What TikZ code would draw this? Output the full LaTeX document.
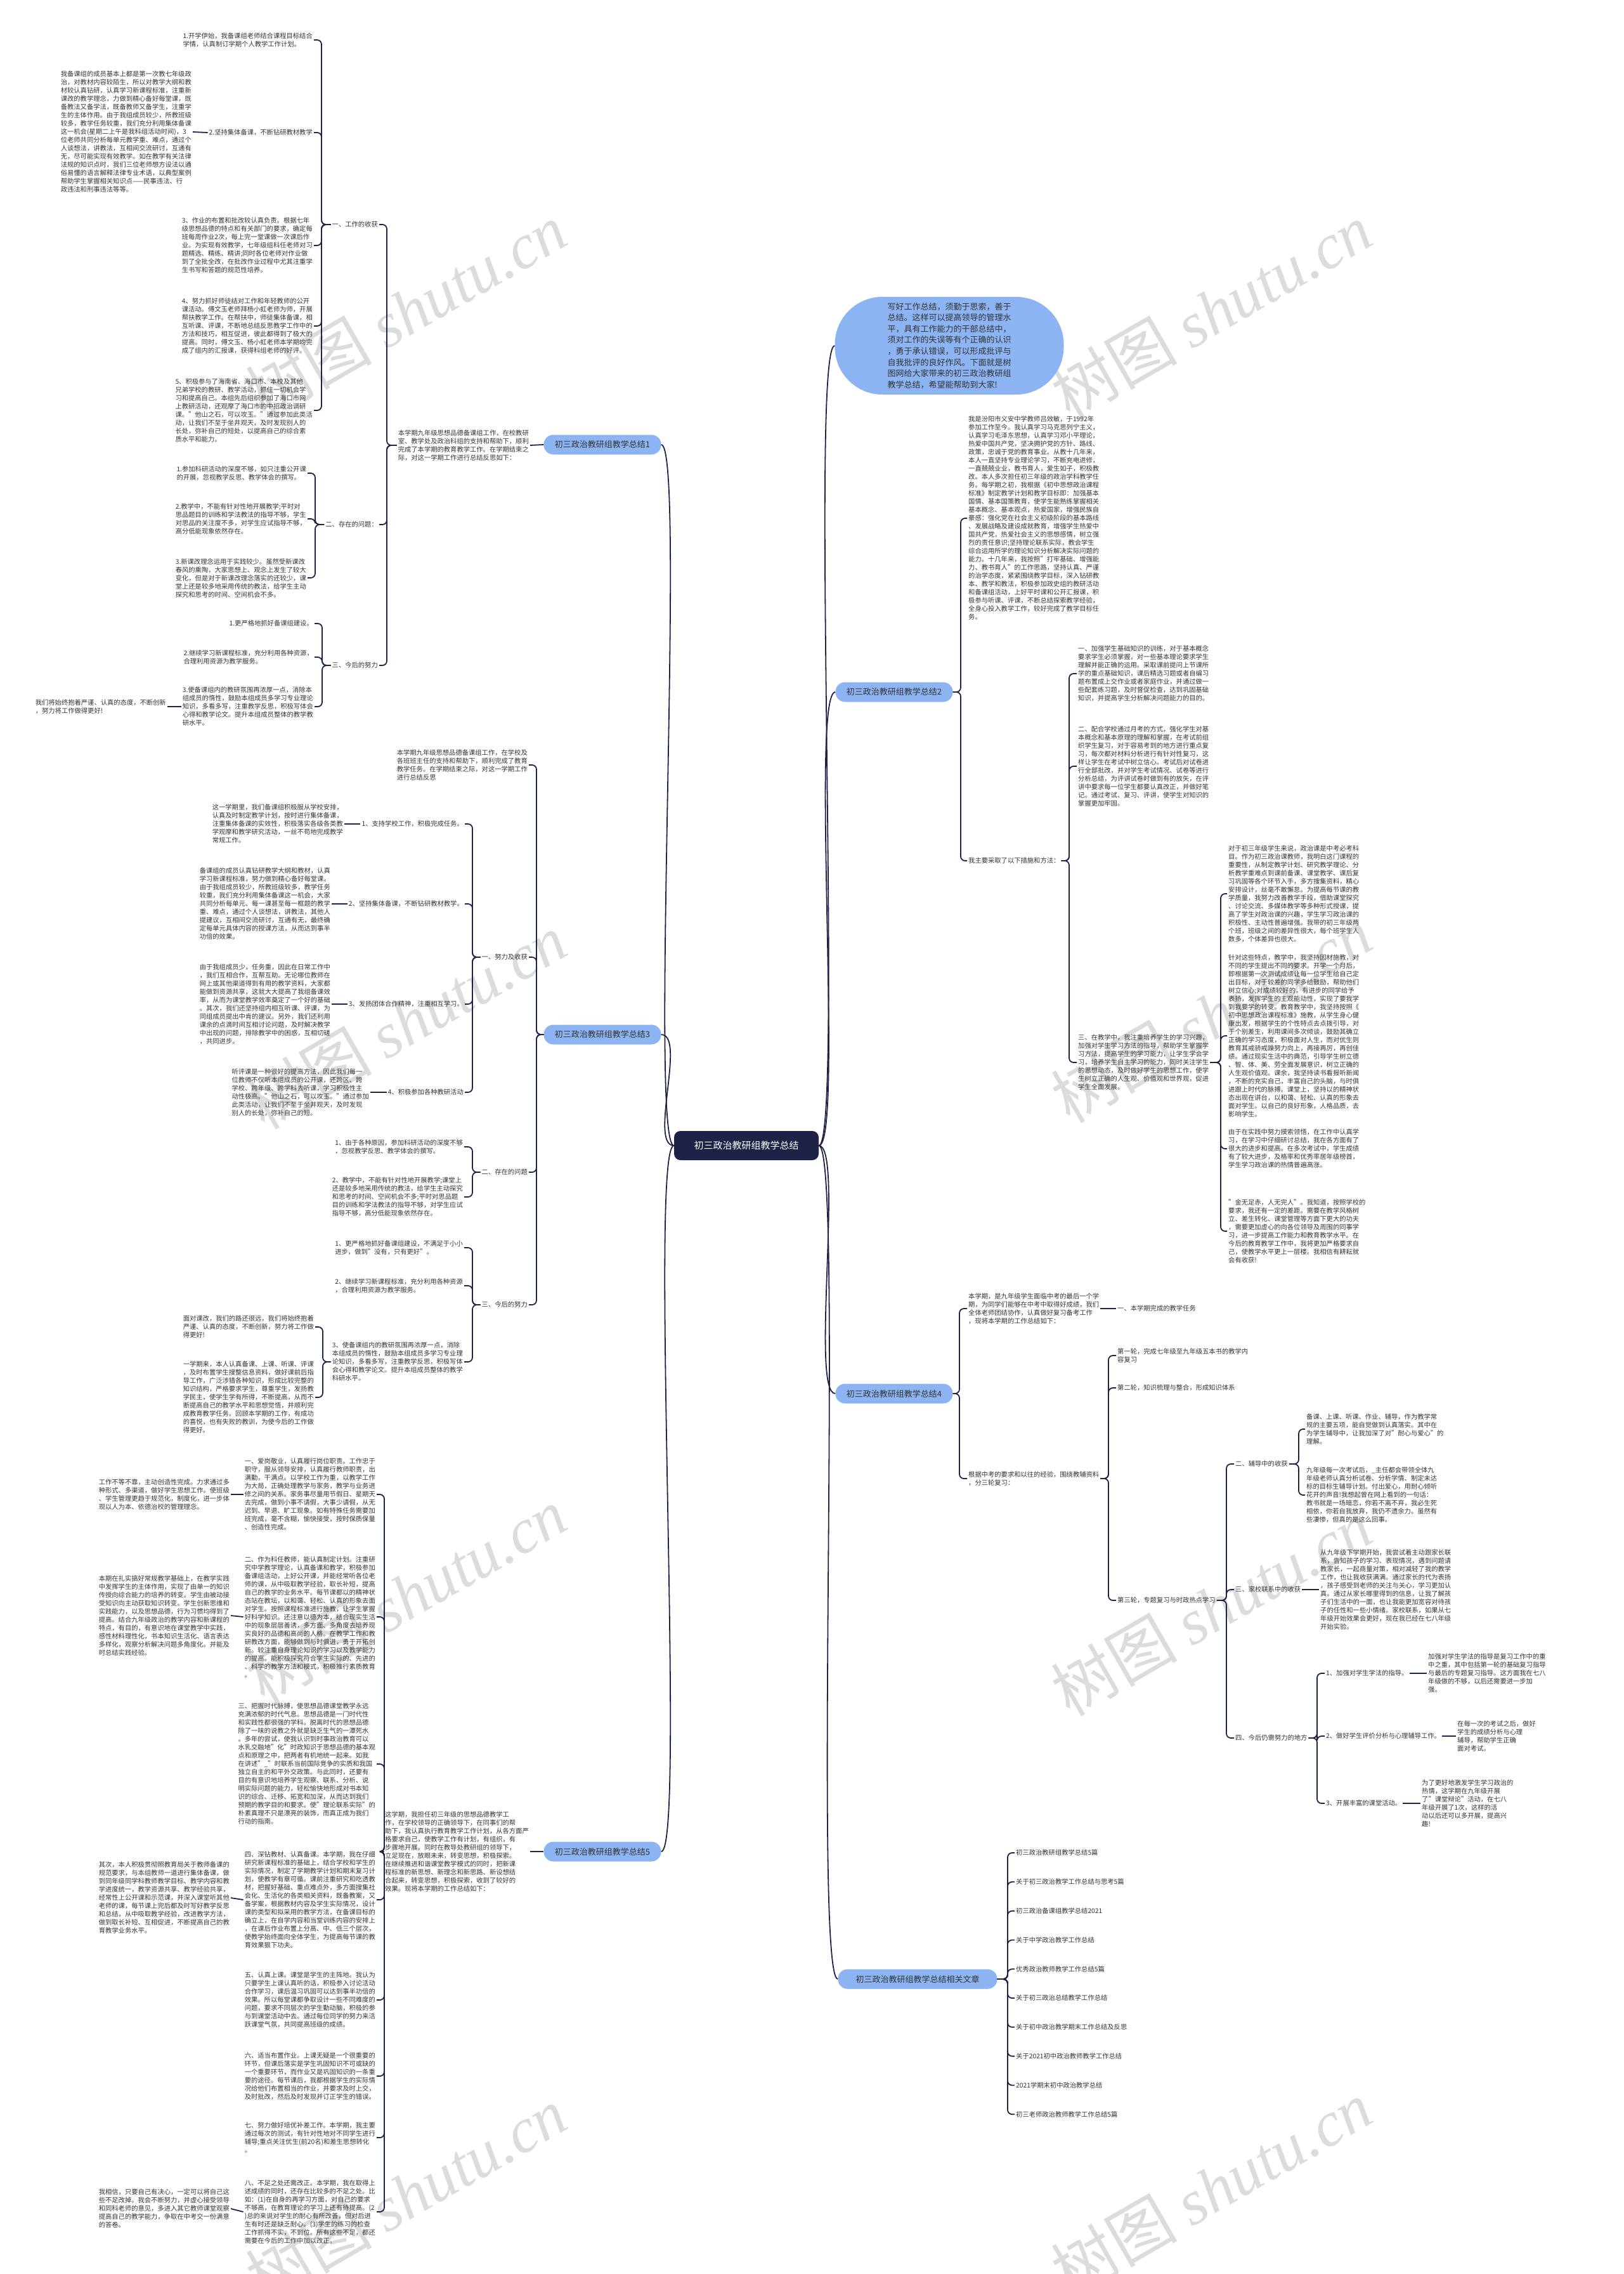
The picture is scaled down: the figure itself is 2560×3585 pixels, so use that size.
\documentclass[tikz,border=0pt]{standalone}
\usepackage{fontspec}
\setmainfont{Noto Sans CJK SC}
\newfontfamily\wmserif{Liberation Serif}
\definecolor{linec}{HTML}{1E2246}
\definecolor{topicc}{HTML}{8CB3F2}
\definecolor{txtc}{HTML}{333333}
\definecolor{wmc}{HTML}{DCDCDC}
\begin{document}
\begin{tikzpicture}[x=1pt,y=-1pt,
  link/.style={draw=linec,line width=1.8pt,rounded corners=7pt},
  txt/.style={align=left,inner sep=2pt,text=txtc,font=\fontsize{10.3}{13}\selectfont},
  topic/.style={fill=topicc,rounded corners=15pt,minimum width=185pt,minimum height=31pt,inner sep=0pt,text=txtc,font=\fontsize{13}{16}\selectfont},
  rootbox/.style={fill=linec,rounded corners=10pt,minimum width=228pt,minimum height=46pt,text=white,font=\fontsize{15}{18}\selectfont},
  wm/.style={text=wmc,rotate=30,font=\fontsize{100}{110}\selectfont}]
\useasboundingbox[fill=white] (0,0) rectangle (2560,3585);
% watermarks
\foreach \wx/\wy [count=\i] in {640/490,1910/490,640/1610,1910/1600,640/2515,1910/2535,640/3460,1910/3450}
  \node[wm] (wm\i) at (\wx,\wy) {树图 {\wmserif\itshape shutu.cn}};

% centre
\node[rootbox] (root) at (1177,1806) {初三政治教研组教学总结};

% ---- branch 1
\node[topic] (n1) at (950,701) {初三政治教研组教学总结1};
\node[txt,anchor=east] (t1) at (836,702) {本学期九年级思想品德备课组工作，在校教研\\室、教学处及政治科组的支持和帮助下，顺利\\完成了本学期的教育教学工作。在学期结束之\\际，对这一学期工作进行总结反思如下：};
\node[txt,anchor=east] (a1) at (598,354) {一、工作的收获};
\node[txt,anchor=east] (b1) at (598,827) {二、存在的问题：};
\node[txt,anchor=east] (c1) at (598,1049) {三、今后的努力};
\node[txt,anchor=east] (a11) at (495,63) {1.开学伊始，我备课组老师结合课程目标结合\\学情，认真制订学期个人教学工作计划。};
\node[txt,anchor=east] (a12) at (495,209) {2.坚持集体备课，不断钻研教材教学};
\node[txt,anchor=east] (a12c) at (304,208) {我备课组的成员基本上都是第一次教七年级政\\治，对教材内容较陌生，所以对教学大纲和教\\材较认真钻研，认真学习新课程标准，注重新\\课改的教学理念，力做到精心备好每堂课，既\\备教法又备学法，既备教师又备学生，注重学\\生的主体作用。由于我组成员较少，所教班级\\较多，教学任务较重，我们充分利用集体备课\\这一机会(星期二上午是我科组活动时间)，3\\位老师共同分析每单元教学重、难点，通过个\\人谈想法，讲教法，互相间交流研讨，互通有\\无，尽可能实现有效教学。如在教学有关法律\\法规的知识点时，我们三位老师想方设法以通\\俗易懂的语言解释法律专业术语，以典型案例\\帮助学生掌握相关知识点——民事违法、行\\政违法和刑事违法等等。};
\node[txt,anchor=east] (a13) at (495,387) {3、作业的布置和批改较认真负责。根据七年\\级思想品德的特点和有关部门的要求，确定每\\班每周作业2次，每上完一堂课做一次课后作\\业。为实现有效教学，七年级组科任老师对习\\题精选、精练、精讲;同时各位老师对作业做\\到了全批全改，在批改作业过程中尤其注重学\\生书写和答题的规范性培养。};
\node[txt,anchor=east] (a14) at (495,514) {4、努力抓好师徒结对工作和年轻教师的公开\\课活动。傅文玉老师拜杨小虹老师为师，开展\\帮扶教学工作。在帮扶中，师徒集体备课，相\\互听课、评课，不断地总结反思教学工作中的\\方法和技巧，相互促进，彼此都得到了极大的\\提高。同时，傅文玉、杨小虹老师本学期均完\\成了组内的汇报课，获得科组老师的好评。};
\node[txt,anchor=east] (a15) at (495,647) {5、积极参与了海南省、海口市、本校及其他\\兄弟学校的教研、教学活动，抓住一切机会学\\习和提高自己。本组先后组织参加了海口市网\\上教研活动，还观摩了海口市的中招政治调研\\课。"他山之石，可以攻玉。"通过参加此类活\\动，让我们不至于坐井观天，及时发现别人的\\长处，弥补自己的短处，以提高自己的综合素\\质水平和能力。};
\node[txt,anchor=east] (b11) at (485,746) {1.参加科研活动的深度不够，如只注重公开课\\的开展，忽视教学反思、教学体会的撰写。};
\node[txt,anchor=east] (b12) at (485,818) {2.教学中，不能有针对性地开展教学;平时对\\思品题目的训练和学法教法的指导不够，学生\\对思品的关注度不多，对学生应试指导不够，\\高分低能现象依然存在。};
\node[txt,anchor=east] (b13) at (485,911) {3.新课改理念运用于实践较少。虽然受新课改\\春风的熏陶，大家思想上、观念上发生了较大\\变化，但是对于新课改理念落实的还较少，课\\堂上还是较多地采用传统的教法，给学生主动\\探究和思考的时间、空间机会不多。};
\node[txt,anchor=east] (c11) at (496,983) {1.更严格地抓好备课组建设。};
\node[txt,anchor=east] (c12) at (496,1036) {2.继续学习新课程标准，充分利用各种资源，\\合理利用资源为教学服务。};
\node[txt,anchor=east] (c13) at (496,1114) {3.使备课组内的教研氛围再浓厚一点，消除本\\组成员的惰性，鼓励本组成员多学习专业理论\\知识，多看多写，注重教学反思，积极写体会\\心得和教学论文。提升本组成员整体的教学教\\研水平。};
\node[txt,anchor=east] (c13c) at (264,1114) {我们将始终抱着严谨、认真的态度，不断创新\\，努力将工作做得更好!};
\coordinate (s1) at (610,0);
\coordinate (sa) at (507,0);
\coordinate (sb) at (497,0);
\coordinate (sc) at (508,0);
\draw[link] (n1.west) -- (t1.east);
\foreach \c in {a1,b1,c1} \draw[link] (t1.west) -- (t1.west -| s1) |- (\c.east);
\foreach \c in {a11,a12,a13,a14,a15} \draw[link] (a1.west) -- (a1.west -| sa) |- (\c.east);
\foreach \c in {b11,b12,b13} \draw[link] (b1.west) -- (b1.west -| sb) |- (\c.east);
\foreach \c in {c11,c12,c13} \draw[link] (c1.west) -- (c1.west -| sc) |- (\c.east);
\draw[link] (a12.west) -- (a12c.east);
\draw[link] (c13.west) -- (c13c.east);

% ---- branch 3
\node[topic] (n3) at (950,1631) {初三政治教研组教学总结3};
\node[txt,anchor=east] (t3) at (834,1206) {本学期九年级思想品德备课组工作，在学校及\\各班班主任的支持和帮助下，顺利完成了教育\\教学任务。在学期结束之际，对这一学期工作\\进行总结反思};
\node[txt,anchor=east] (d1) at (834,1509) {一、努力及收获};
\node[txt,anchor=east] (e1) at (834,1848) {二、存在的问题};
\node[txt,anchor=east] (f1) at (834,2057) {三、今后的努力};
\node[txt,anchor=east] (d11) at (733,1299) {1、支持学校工作，积极完成任务。};
\node[txt,anchor=east] (d12) at (733,1425) {2、坚持集体备课，不断钻研教材教学。};
\node[txt,anchor=east] (d13) at (733,1583) {3、发扬团体合作精神，注重相互学习。};
\node[txt,anchor=east] (d14) at (733,1722) {4、积极参加各种教研活动};
\node[txt,anchor=east] (d11c) at (543,1299) {这一学期里，我们备课组积极服从学校安排，\\认真及时制定教学计划，按时进行集体备课，\\注重集体备课的实效性，积极落实各级各类教\\学观摩和教学研究活动，一丝不苟地完成教学\\常规工作。};
\node[txt,anchor=east] (d12c) at (523,1425) {备课组的成员认真钻研教学大纲和教材，认真\\学习新课程标准，努力做到精心备好每堂课。\\由于我组成员较少，所教班级较多，教学任务\\较重，我们充分利用集体备课这一机会，大家\\共同分析每单元、每一课甚至每一框题的教学\\重、难点，通过个人谈想法，讲教法，其他人\\提建议，互相间交流研讨，互通有无，最终确\\定每单元具体内容的授课方法，从而达到事半\\功倍的效果。};
\node[txt,anchor=east] (d13c) at (523,1583) {由于我组成员少，任务重，因此在日常工作中\\，我们互相合作，互帮互助。无论哪位教师在\\网上或其他渠道得到有用的教学资料，大家都\\能做到资源共享，这就大大提高了我组备课效\\率，从而为课堂教学效率奠定了一个好的基础\\。其次，我们还坚持组内相互听课、评课，为\\同组成员提出中肯的建议。另外，我们还利用\\课余的点滴时间互相讨论问题，及时解决教学\\中出现的问题，排除教学中的困惑，互相切磋\\，共同进步。};
\node[txt,anchor=east] (d14c) at (584,1722) {听评课是一种很好的提高方法，因此我们每一\\位教师不仅听本组成员的公开课，还跨区、跨\\学校、跨年级、跨学科去听课，学习积极性主\\动性极高。"他山之石，可以攻玉。"通过参加\\此类活动，让我们不至于坐井观天，及时发现\\别人的长处，弥补自己的短。};
\node[txt,anchor=east] (e11) at (732,1808) {1、由于各种原因，参加科研活动的深度不够\\，忽视教学反思、教学体会的撰写。};
\node[txt,anchor=east] (e12) at (732,1887) {2、教学中，不能有针对性地开展教学;课堂上\\还是较多地采用传统的教法，给学生主动探究\\和思考的时间、空间机会不多;平时对思品题\\目的训练和学法教法的指导不够，对学生应试\\指导不够，高分低能现象依然存在。};
\node[txt,anchor=east] (f11) at (732,1967) {1、更严格地抓好备课组建设，不满足于小小\\进步，做到"没有，只有更好"。};
\node[txt,anchor=east] (f12) at (732,2027) {2、继续学习新课程标准，充分利用各种资源\\，合理利用资源为教学服务。};
\node[txt,anchor=east] (f13) at (732,2147) {3、使备课组内的教研氛围再浓厚一点，消除\\本组成员的惰性，鼓励本组成员多学习专业理\\论知识，多看多写，注重教学反思，积极写体\\会心得和教学论文。提升本组成员整体的教学\\科研水平。};
\node[txt,anchor=east] (f13a) at (497,2092) {面对课改，我们的路还很远，我们将始终抱着\\严谨、认真的态度，不断创新，努力将工作做\\得更好!};
\node[txt,anchor=east] (f13b) at (497,2203) {一学期来，本人认真备课、上课、听课、评课\\，及时布置学生搜整信息资料，做好课前后指\\导工作，广泛涉猎各种知识，形成比较完整的\\知识结构，严格要求学生，尊重学生，发扬教\\学民主，使学生学有所得，不断提高，从而不\\断提高自己的教学水平和思想觉悟，并顺利完\\成教育教学任务。回顾本学期的工作，有成功\\的喜悦，也有失败的教训，为使今后的工作做\\得更好。};
\coordinate (s3) at (846,0);
\coordinate (sd) at (745,0);
\coordinate (sf3) at (509,0);
\foreach \c in {t3,d1,e1,f1} \draw[link] (n3.west) -- (n3.west -| s3) |- (\c.east);
\foreach \c in {d11,d12,d13,d14} \draw[link] (d1.west) -- (d1.west -| sd) |- (\c.east);
\foreach \c in {e11,e12} \draw[link] (e1.west) -- (e1.west -| sd) |- (\c.east);
\foreach \c in {f11,f12,f13} \draw[link] (f1.west) -- (f1.west -| sd) |- (\c.east);
\foreach \c in {f13a,f13b} \draw[link] (f13.west) -- (f13.west -| sf3) |- (\c.east);
\foreach \c in {d11,d12,d13,d14} \draw[link] (\c.west) -- (\c c.east);

% ---- branch 5
\node[topic] (n5) at (950,2919) {初三政治教研组教学总结5};
\node[txt,anchor=east] (t5) at (836,2919) {这学期，我担任初三年级的思想品德教学工\\作，在学校领导的正确领导下，在同事们的帮\\助下，我认真执行教育教学工作计划，从各方面严\\格要求自己，使教学工作有计划，有组织，有\\步骤地开展。同时在教导处教研组的领导下，\\立足现在，放眼未来，转变思想，积极探索。\\在继续推进和谐课堂教学模式的同时，把新课\\程标准的新思想、新理念和新思路、新设想结\\合起来，转变思想，积极探索，收到了较好的\\效果。现将本学期的工作总结如下：};
\node[txt,anchor=east] (g1) at (594,2356) {一、爱岗敬业，认真履行岗位职责。工作忠于\\职守，服从领导安排，认真履行教师职责，出\\满勤，干满点。以学校工作为重，以教学工作\\为大局，正确处理教学与家务，教学与业务进\\修之间的关系。家务事尽量用节假日、星期天\\去完成，做到小事不请假，大事少请假，从无\\迟到、早退、旷工现象。如有特殊任务需要加\\班完成，毫不含糊，愉快接受，按时保质保量\\、创造性完成。};
\node[txt,anchor=east] (g2) at (594,2549) {二、作为科任教师，能认真制定计划。注重研\\究中学教学理论，认真备课和教学，积极参加\\备课组活动，上好公开课，并能经常听各位老\\师的课，从中吸取教学经验，取长补短，提高\\自己的教学的业务水平。每节课都以的精神状\\态站在教坛，以和蔼、轻松、认真的形象去面\\对学生。按照课程标准进行施教，让学生掌握\\好科学知识。还注意以德为本，结合现实生活\\中的现象层层善诱，多方面、多角度去培养现\\实良好的品德和高尚的人格。在教学工作和教\\研教改方面，能够做到与时俱进，勇于开拓创\\新。较注重自身理论知识的学习以及教学能力\\的提高。能积极探究符合学生实际的、先进的\\、科学的教学方法和模式，积极推行素质教育\\。};
\node[txt,anchor=east] (g3) at (594,2781) {三、把握时代脉搏，使思想品德课堂教学永远\\充满浓郁的时代气息。思想品德是一门时代性\\和实践性都很强的学科。脱离时代的思想品德\\除了一味的说教之外就是缺乏生气的一潭死水\\。多年的尝试，使我认识到时事政治教育可以\\水乳交融地"化"时政知识于思想品德的基本观\\点和原理之中，把两者有机地统一起来。如我\\在讲述"\_"时联系当前国际竞争的实质和我国\\独立自主的和平外交政策。与此同时，还要有\\目的有意识地培养学生观察、联系、分析、说\\明实际问题的能力，轻松愉快地形成对书本知\\识的综合、迁移、拓宽和加深，从而达到我们\\预期的教学目的和要求。使"理论联系实际"的\\朴素真理不只是漂亮的装饰，而真正成为我们\\行动的指南。};
\node[txt,anchor=east] (g4) at (594,2995) {四、深钻教材、认真备课。本学期，我在仔细\\研究新课程标准的基础上，结合学校和学生的\\实际情况，制定了学期教学计划和期末复习计\\划，使教学有章可循。课前注重研究和吃透教\\材，把握好基础、重点难点外，多方面搜集社\\会化、生活化的各类相关资料，既备教案，又\\备学案，根据教材内容及学生实际情况，设计\\课的类型和拟采用的教学方法，在备课目标的\\确立上，在自学内容和当堂训练内容的安排上\\，在课后作业布置上分高、中、低三个层次，\\使教学始终面向全体学生，为提高每节课的教\\育效果狠下功夫。};
\node[txt,anchor=east] (g5) at (594,3153) {五、认真上课。课堂是学生的主阵地。我认为\\只要学生上课认真听的话，积极参入讨论活动\\合作学习，课后温习巩固可以达到事半功倍的\\效果。所以每堂课都争取设计一些不同难度的\\问题，要求不同层次的学生勤动脑，积极的参\\与到课堂活动中去。通过每位同学的努力来活\\跃课堂气氛，共同提高班级的成绩。};
\node[txt,anchor=east] (g6) at (594,3273) {六、适当布置作业。上课无疑是一个很重要的\\环节，但课后落实是学生巩固知识不可或缺的\\一个重要环节，而作业又是巩固知识的一条重\\要的途径。每节课后，我都根据学生的实际情\\况给他们布置相当的作业，并要求及时上交，\\及时批改，然后及时发现并订正学生的错误。};
\node[txt,anchor=east] (g7) at (594,3370) {七、努力做好培优补差工作。本学期，我主要\\通过每次的测试，有针对性地对不同学生进行\\辅导;重点关注优生(前20名)和差生思想转化\\。};
\node[txt,anchor=east] (g8) at (594,3487) {八、不足之处还需改正。本学期，我在取得上\\述成绩的同时，还存在比较多的不足之处。比\\如：(1)在自身的再学习方面，对自己的要求\\不够高，在教育理论的学习上还有待提高。(2\\)总的来说对学生的耐心有所改善，但对后进\\生有时还是缺乏耐心。(3)学生的练习的检查\\工作抓得不实，不到位。所有这些不足，都还\\需要在今后的工作中加以改正。};
\node[txt,anchor=east] (g1c) at (364,2356) {工作不等不靠，主动创造性完成。力求通过多\\种形式、多渠道，做好学生思想工作。使班级\\、学生管理更趋于规范化，制度化，进一步体\\现以人为本、依德治校的管理理念。};
\node[txt,anchor=east] (g2c) at (364,2547) {本期在扎实搞好常规教学基础上，在教学实践\\中发挥学生的主体作用，实现了由单一的知识\\传授向综合能力的培养的转变。学生由被动接\\受知识向主动获取知识转变。学生创新思维和\\实践能力，以及思想品德，行为习惯均得到了\\提高。结合九年级政治的教学内容和新课程的\\特点，有目的，有意识地在课堂教学中实践，\\感性材料理性化，书本知识生活化、语言表达\\多样化，观察分析解决问题多角度化。并能及\\时总结实践经验。};
\node[txt,anchor=east] (g4c) at (364,2992) {其次，本人积极贯彻照教育局关于教师备课的\\规范要求，与本组教师一道进行集体备课，做\\到同年级同学科教师教学目标、教学内容和教\\学进度统一，教学资源共享、教学经验共享，\\经常性上公开课和示范课，并深入课堂听其他\\老师的课，每节课上完后都及时写好教学反思\\和总结，从中吸取教学经验，改进教学方法，\\做到取长补短、互相促进，不断提高自己的教\\育教学业务水平。};
\node[txt,anchor=east] (g8c) at (364,3482) {我相信，只要自己有决心，一定可以将自己这\\些不足改掉。我会不断努力，并虚心接受领导\\和同科老师的意见，多进入其它教师课堂观察\\提高自己的教学能力，争取在中考交一份满意\\的答卷。};
\coordinate (s5) at (606,0);
\draw[link] (n5.west) -- (t5.east);
\foreach \c in {g1,g2,g3,g4,g5,g6,g7,g8} \draw[link] (t5.west) -- (t5.west -| s5) |- (\c.east);
\foreach \c in {g1,g2,g4,g8} \draw[link] (\c.west) -- (\c c.east);

% ---- branch 2
\node[topic,rounded corners=75pt,minimum width=361pt,minimum height=154pt] (bub) at (1497,545) {};
\node[txt,font=\fontsize{13}{17.6}\selectfont,text=txtc] (bubt) at (bub.center) {写好工作总结，须勤于思索，善于\\总结。这样可以提高领导的管理水\\平，具有工作能力的干部总结中，\\须对工作的失误等有个正确的认识\\，勇于承认错误，可以形成批评与\\自我批评的良好作风。下面就是树\\图网给大家带来的初三政治教研组\\教学总结，希望能帮助到大家!};
\node[topic] (n2) at (1410,1091) {初三政治教研组教学总结2};
\node[txt,anchor=west] (t2) at (1525,817) {我是汾阳市义安中学教师吕效敏，于1992年\\参加工作至今。我认真学习马克思列宁主义，\\认真学习毛泽东思想，认真学习邓小平理论，\\热爱中国共产党，坚决拥护党的方针、路线、\\政策，忠诚于党的教育事业。从教十几年来，\\本人一直坚持专业理论学习，不断充电进修，\\一直兢兢业业，教书育人，爱生如子，积极教\\改。本人多次担任初三年级的政治学科教学任\\务。每学期之初，我根据《初中思想政治课程\\标准》制定教学计划和教学目标即：加强基本\\国情、基本国策教育，使学生能熟练掌握相关\\基本概念、基本观点，热爱国家，增强民族自\\豪感：强化党在社会主义初级阶段的基本路线\\、发展战略及建设成就教育，增强学生热爱中\\国共产党，热爱社会主义的思想感情，树立强\\烈的责任意识;坚持理论联系实际，教会学生\\综合运用所学的理论知识分析解决实际问题的\\能力。十几年来，我按照"打牢基础、增强能\\力、教书育人"的工作思路，坚持认真、严谨\\的治学态度，紧紧围绕教学目标，深入钻研教\\本、教学和教法，积极参加政史组的教研活动\\和备课组活动，上好平时课和公开汇报课，积\\极参与听课、评课，不断总结探索教学经验，\\全身心投入教学工作，较好完成了教学目标任\\务。};
\node[txt,anchor=west] (h1) at (1525,1357) {我主要采取了以下措施和方法：};
\node[txt,anchor=west] (h11) at (1698,1062) {一、加强学生基础知识的训练，对于基本概念\\要求学生必须掌握，对一些基本理论要求学生\\理解并能正确的运用。采取课前提问上节课所\\学的重点基础知识，课后精选习题或者自编习\\题布置成上交作业或者家庭作业，并通过做一\\些配套练习题，及时督促检查，达到巩固基础\\知识，并提高学生分析解决问题能力的目的。};
\node[txt,anchor=west] (h12) at (1698,1208) {二、配合学校通过月考的方式，强化学生对基\\本概念和基本原理的理解和掌握，在考试前组\\织学生复习，对于容易考到的地方进行重点复\\习，每次都对材料分析进行有针对性复习，这\\样让学生在考试中树立信心。考试后对试卷进\\行全部批改，并对学生考试情况、试卷等进行\\分析总结，为评讲试卷时做到有的放矢，在评\\讲中要求每一位学生都要认真改正，并做好笔\\记。通过考试、复习、评讲，使学生对知识的\\掌握更加牢固。};
\node[txt,anchor=west] (h13) at (1698,1675) {三、在教学中，我注重培养学生的学习兴趣，\\加强对学生学习方法的指导，帮助学生掌握学\\习方法，提高学生的学习能力，让学生学会学\\习，培养学生自主学习的能力，同时关注学生\\的思想动态，及时做好学生的思想工作，使学\\生树立正确的人生观、价值观和世界观，促进\\学生全面发展。};
\node[txt,anchor=west] (h31) at (1935,1409) {对于初三年级学生来说，政治课是中考必考科\\目。作为初三政治课教师，我明白这门课程的\\重要性，从制定教学计划、研究教学理论、分\\析教学重难点到课前备课、课堂教学、课后复\\习巩固等各个环节入手，多方搜集资料，精心\\安排设计，丝毫不敢懈怠。为提高每节课的教\\学质量，我努力改善教学手段，借助课堂探究\\、讨论交流、多媒体教学等多种形式授课，提\\高了学生对政治课的兴趣，学生学习政治课的\\积极性、主动性普遍增强。我带的初三年级两\\个班，班级之间的差异性很大，每个班学生人\\数多，个体差异也很大。};
\node[txt,anchor=west] (h32) at (1935,1633) {针对这些特点，教学中，我坚持因材施教，对\\不同的学生提出不同的要求。开学一个月后，\\即根据第一次测试成绩让每一位学生给自己定\\出目标，对于较差的同学多给鼓励，帮助他们\\树立信心;对成绩较好的，有进步的同学给予\\表扬，发挥学生的主观能动性，实现了要我学\\到我要学的转变。教育教学中，我坚持按照《\\初中思想政治课程标准》施教，从学生身心健\\康出发，根据学生的个性特点去点拨引导，对\\于个别差生，利用课间多次倾谈，鼓励其确立\\正确的学习态度，积极面对人生，而对优生则\\教育其戒骄戒躁努力向上，再接再厉，再创佳\\绩。通过现实生活中的典范，引导学生树立德\\、智、体、美、劳全面发展意识，树立正确的\\人生观价值观。课余，我坚持读书看报听新闻\\，不断的充实自己，丰富自己的头脑，与时俱\\进跟上时代的脉搏。课堂上，坚持以的精神状\\态出现在讲台，以和蔼、轻松、认真的形象去\\面对学生。以自己的良好形象，人格品质，去\\影响学生。};
\node[txt,anchor=west] (h33) at (1935,1811) {由于在实践中努力摸索领悟，在工作中认真学\\习，在学习中仔细研讨总结，我在各方面有了\\很大的进步和提高。在多次考试中，学生成绩\\有了较大进步，及格率和优秀率居年级榜首，\\学生学习政治课的热情普遍高涨。};
\node[txt,anchor=west] (h34) at (1935,1941) {"金无足赤，人无完人"。我知道，按照学校的\\要求，我还有一定的差距。需要在教学风格树\\立、差生转化、课堂管理等方面下更大的功夫\\，需要更加虚心的向各位领导及周围的同事学\\习，进一步提高工作能力和教育教学水平。在\\今后的教育教学工作中，我将更加严格要求自\\己，使教学水平更上一层楼。我相信有耕耘就\\会有收获!};
\coordinate (s2) at (1515,0);
\coordinate (sh) at (1686,0);
\coordinate (sh3) at (1925,0);
\foreach \c in {t2,h1} \draw[link] (n2.east) -- (n2.east -| s2) |- (\c.west);
\foreach \c in {h11,h12,h13} \draw[link] (h1.east) -- (h1.east -| sh) |- (\c.west);
\foreach \c in {h31,h32,h33,h34} \draw[link] (h13.east) -- (h13.east -| sh3) |- (\c.west);

% ---- branch 4
\node[topic] (n4) at (1410,2197) {初三政治教研组教学总结4};
\node[txt,anchor=west] (t4) at (1525,2063) {本学期，是九年级学生面临中考的最后一个学\\期，为同学们能够在中考中取得好成绩，我们\\全体老师团结协作，认真做好复习备考工作\\，现将本学期的工作总结如下：};
\node[txt,anchor=west] (u1) at (1760,2063) {一、本学期完成的教学任务};
\node[txt,anchor=west] (k1) at (1525,2331) {根据中考的要求和以往的经验，围绕教辅资料\\，分三轮复习：};
\node[txt,anchor=west] (k11) at (1760,2137) {第一轮，完成七年级至九年级五本书的教学内\\容复习};
\node[txt,anchor=west] (k12) at (1760,2188) {第二轮，知识梳理与整合，形成知识体系};
\node[txt,anchor=west] (k13) at (1760,2523) {第三轮，专题复习与时政热点学习};
\node[txt,anchor=west] (m1) at (1946,2308) {二、辅导中的收获};
\node[txt,anchor=west] (m2) at (1946,2506) {三、家校联系中的收获};
\node[txt,anchor=west] (m3) at (1946,2740) {四、今后仍需努力的地方};
\node[txt,anchor=west] (m11) at (2058,2253) {备课、上课、听课、作业、辅导，作为教学常\\规的主要五项，能自觉做到认真落实。其中在\\为学生辅导中，让我加深了对"耐心与爱心"的\\理解。};
\node[txt,anchor=west] (m12) at (2058,2357) {九年级每一次考试后，\_主任都会带领全体九\\年级老师认真分析试卷、分析学情、制定未达\\标的目标生辅导计划。付出爱心，用耐心倾听\\花开的声音!我想起曾在网上看到的一句话：\\教书就是一场暗恋，你若不离不弃，我必生死\\相依，你若自我放弃，我仍不遗余力。虽然有\\些凄惨，但真的是这么回事。};
\node[txt,anchor=west] (m2c) at (2080,2506) {从九年级下学期开始，我尝试着主动跟家长联\\系，告知孩子的学习、表现情况，遇到问题请\\教家长，一起商量对策，相对减轻了我的教学\\工作，也让我收获满满。通过家长的代为表扬\\，孩子感受到老师的关注与关心，学习更加认\\真。通过从家长哪里得到的信息，让我了解孩\\子们生活中的一面，也让我能更加宽容对待孩\\子的任性和一些小情绪。家校联系，如果从七\\年级开始效果会更好，现在我已经在七八年级\\开始实验。};
\node[txt,anchor=west] (m31) at (2089,2638) {1、加强对学生学法的指导。};
\node[txt,anchor=west] (m32) at (2089,2737) {2、做好学生评价分析与心理辅导工作。};
\node[txt,anchor=west] (m33) at (2089,2843) {3、开展丰富的课堂活动。};
\node[txt,anchor=west] (m31c) at (2250,2638) {加强对学生学法的指导是复习工作中的重\\中之重，其中包括第一轮的基础复习指导\\与最后的专题复习指导。这方面我在七八\\年级做的不够，以后还需要进一步加\\强。};
\node[txt,anchor=west] (m32c) at (2296,2737) {在每一次的考试之后，做好\\学生的成绩分析与心理\\辅导，帮助学生正确\\面对考试。};
\node[txt,anchor=west] (m33c) at (2240,2843) {为了更好地激发学生学习政治的\\热情，这学期在九年级开展\\了"课堂辩论"活动，在七八\\年级开展了1次，这样的活\\动以后还可以多开展，提高兴\\趣!};
\coordinate (s4) at (1513,0);
\coordinate (sk) at (1748,0);
\coordinate (sk3) at (1934,0);
\coordinate (sm1) at (2048,0);
\coordinate (sm3) at (2077,0);
\foreach \c in {t4,k1} \draw[link] (n4.east) -- (n4.east -| s4) |- (\c.west);
\draw[link] (t4.east) -- (u1.west);
\foreach \c in {k11,k12,k13} \draw[link] (k1.east) -- (k1.east -| sk) |- (\c.west);
\foreach \c in {m1,m2,m3} \draw[link] (k13.east) -- (k13.east -| sk3) |- (\c.west);
\foreach \c in {m11,m12} \draw[link] (m1.east) -- (m1.east -| sm1) |- (\c.west);
\draw[link] (m2.east) -- (m2c.west);
\foreach \c in {m31,m32,m33} \draw[link] (m3.east) -- (m3.east -| sm3) |- (\c.west);
\foreach \c in {m31,m32,m33} \draw[link] (\c.east) -- (\c c.west);

% ---- related articles
\node[topic,minimum width=251pt] (n6) at (1447,3120) {初三政治教研组教学总结相关文章};
\foreach \t [count=\i] in {初三政治教研组教学总结5篇,关于初三政治教学工作总结与思考5篇,初三政治备课组教学总结2021,关于中学政治教学工作总结,优秀政治教师教学工作总结5篇,关于初三政治总结教学工作总结,关于初中政治教学期末工作总结及反思,关于2021初中政治教师教学工作总结,2021学期末初中政治教学总结,初三老师政治教师教学工作总结5篇}
  \node[txt,anchor=west] (r\i) at (1600,2921+45.8*\i-45.8) {\t};
\coordinate (s6) at (1589,0);
\foreach \i in {1,...,10} \draw[link] (n6.east) -- (n6.east -| s6) |- (r\i.west);

% ---- root links
\foreach \c in {n1,n3,n5} \draw[link] (root.west) .. controls +(-40,0) and +(40,0) .. (\c.east);
\foreach \c in {bub,n2,n4,n6} \draw[link] (root.east) .. controls +(40,0) and +(-40,0) .. (\c.west);
\end{tikzpicture}
\end{document}
